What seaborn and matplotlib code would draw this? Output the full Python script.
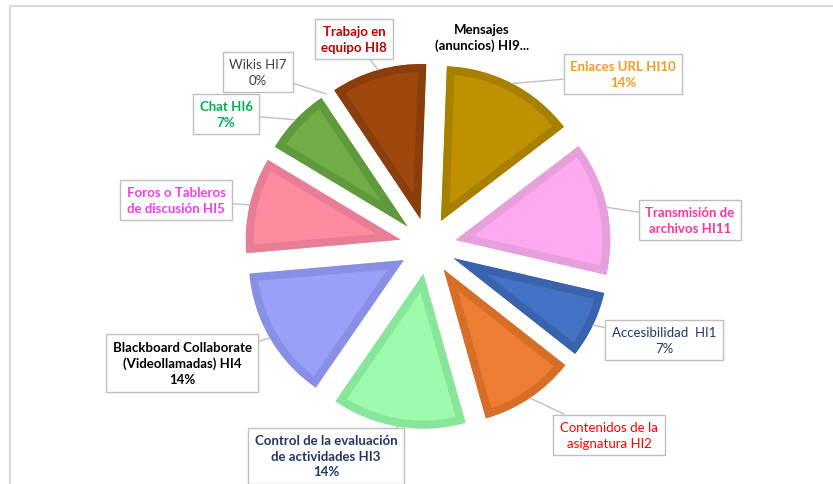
import matplotlib
matplotlib.use("Agg")
import matplotlib.pyplot as plt
import seaborn as sns
import numpy as np

# data (percent per tool)
codes = ["HI1", "HI2", "HI3", "HI4", "HI5", "HI6", "HI7", "HI8", "HI9", "HI10", "HI11"]
values = [7, 10, 14, 14, 10, 7, 0, 10, 0, 14, 14]
label_texts = [
    "Accesibilidad  HI1\n7%",
    "Contenidos de la\nasignatura HI2",
    "Control de la evaluación\nde actividades HI3\n14%",
    "Blackboard Collaborate\n(Videollamadas) HI4\n14%",
    "Foros o Tableros\nde discusión HI5",
    "Chat HI6\n7%",
    "Wikis HI7\n0%",
    "Trabajo en\nequipo HI8",
    "Mensajes\n(anuncios) HI9...",
    "Enlaces URL HI10\n14%",
    "Transmisión de\narchivos HI11",
]

# styling
face_colors = ["#4472C4", "#ED7D31", "#9CFAAB", "#9AA0FA", "#FF8BA1", "#70AD47",
               "#A5A5A5", "#9E480E", "#636363", "#BF9000", "#FFAAF0"]
edge_colors = ["#3A63AE", "#D66E28", "#88E69A", "#8A8FE6", "#E87E96", "#619A3C",
               "#A5A5A5", "#8A3E0B", "#636363", "#A88000", "#E6A0DC"]
text_colors = ["#1F3864", "#FF0000", "#1F3864", "#000000", "#F53CF5", "#00B050",
               "#404040", "#C00000", "#000000", "#F79A1E", "#FF3399"]
bold = [False, False, True, True, True, True, False, True, True, True, True]
boxed = [True, True, True, True, True, True, True, True, False, True, True]
# label centres in image pixels (x, y from top)
label_pos = [(664, 341), (609, 436), (326, 457), (182, 364), (176, 201), (226, 115),
             (258, 73), (354, 40), (482, 38), (623, 75), (690, 221)]

W, H = 833, 485
sns.set_theme(style="white")
plt.rcParams['font.family'] = ['Lato', 'DejaVu Sans']

fig = plt.figure(figsize=(W / 100, H / 100), dpi=100)
ax = fig.add_axes([0, 0, 1, 1])

cx, cy = 428, H - 247
R = 155
wedges, _ = ax.pie(values, radius=R, center=(cx, cy), explode=[28] * len(values),
                   startangle=-13, counterclock=False, colors=face_colors, frame=True)

# inner darker band: wide edge clipped to the wedge itself
for w, v, ec in zip(wedges, values, edge_colors):
    w.set_edgecolor(ec)
    w.set_linewidth(16 * 72 / 100)
    w.set_joinstyle('miter')
    w.set_clip_on(True)
    w.set_clip_path(w)
    if v == 0:
        w.set_visible(False)

for i, w in enumerate(wedges):
    mid = np.deg2rad((w.theta1 + w.theta2) / 2)
    wx, wy = w.center
    anchor = (wx + w.r * np.cos(mid), wy + w.r * np.sin(mid))
    lx, ly = label_pos[i]
    kw = {}
    if boxed[i]:
        kw['bbox'] = dict(boxstyle='square,pad=0.5', fc='white', ec='#BFBFBF', lw=1)
        kw['arrowprops'] = dict(arrowstyle='-', color='#BFBFBF', lw=1, shrinkA=0, shrinkB=0)
    ax.annotate(label_texts[i], xy=anchor, xytext=(lx, H - ly), ha='center', va='center',
                color=text_colors[i], fontsize=9.5, linespacing=1.35,
                fontweight='bold' if bold[i] else 'normal', zorder=5, **kw)

ax.set_xlim(0, W)
ax.set_ylim(0, H)
ax.axis('off')

# chart area border (top and left visible)
fig.add_artist(plt.Rectangle((10 / W, -0.1), 1.2, 1.1 - 7 / H, transform=fig.transFigure,
                             fill=False, ec='#D9D9D9', lw=1.5))

fig.savefig('out.png', dpi=100)
